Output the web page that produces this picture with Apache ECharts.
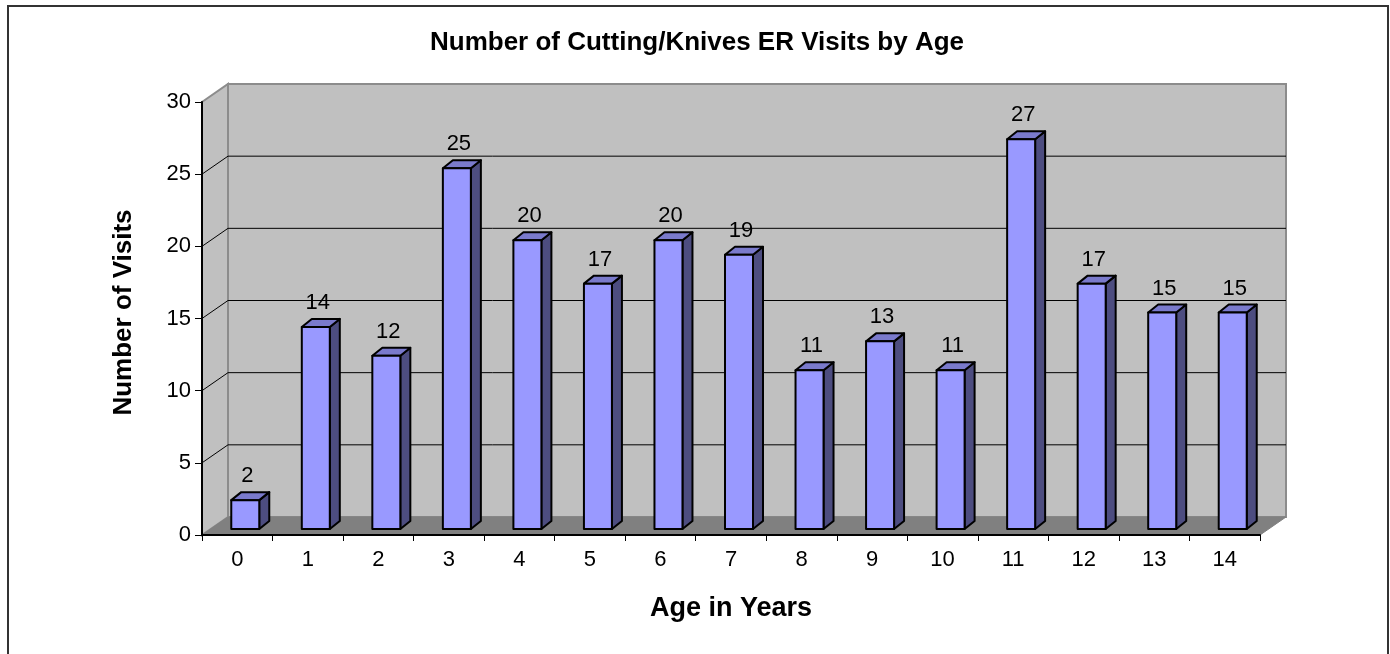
<!DOCTYPE html>
<html><head><meta charset="utf-8">
<style>html,body{margin:0;padding:0;background:#fff}#c{width:1390px;height:654px}</style>
<script src="https://cdn.jsdelivr.net/npm/echarts@6/dist/echarts.min.js"></script>
</head><body><div id="c"></div>
<script>
const categories = ['0','1','2','3','4','5','6','7','8','9','10','11','12','13','14'];
const visits = [2,14,12,25,20,17,20,19,11,13,11,27,17,15,15];
const gridTicks = [5,10,15,20,25];

const FONT = '"Liberation Sans", Arial, sans-serif';
const wallDepth = [26, -18];
const barDepth = [10, -8];
const barOffset = [8, -6];
const barWidth = 28;

const chart = echarts.init(document.getElementById('c'), null, {renderer:'canvas'});

function renderWalls(params, api) {
  const cs = params.coordSys;
  const L = cs.x, R = cs.x + cs.width, T = cs.y, B = cs.y + cs.height;
  const dx = wallDepth[0], dy = wallDepth[1];
  const kids = [];
  kids.push({type:'polygon', shape:{points:[[L+dx,T+dy],[R+dx,T+dy],[R+dx,B+dy],[L+dx,B+dy]]}, style:{fill:'#c0c0c0', stroke:'#8c8c8c', lineWidth:2}});
  kids.push({type:'polygon', shape:{points:[[L,T],[L+dx,T+dy],[L+dx,B+dy],[L,B]]}, style:{fill:'#c0c0c0', stroke:'#8c8c8c', lineWidth:2}});
  kids.push({type:'polygon', shape:{points:[[L,B],[L+dx,B+dy],[R+dx,B+dy],[R,B]]}, style:{fill:'#808080', stroke:'#808080', lineWidth:1}});
  gridTicks.forEach(v => {
    const y = api.coord([0, v])[1];
    kids.push({type:'polyline', shape:{points:[[L,y],[L+dx,y+dy],[R+dx,y+dy]]}, style:{fill:'none', stroke:'#000', lineWidth:1}});
  });
  return {type:'group', children:kids};
}

function renderBar(params, api) {
  const catIdx = api.value(0), val = api.value(1);
  const top = api.coord([catIdx, val]);
  const base = api.coord([catIdx, 0]);
  const x0 = top[0] + barOffset[0] - barWidth/2, x1 = x0 + barWidth;
  const yB = base[1] + barOffset[1], yT = top[1] + barOffset[1];
  const dx = barDepth[0], dy = barDepth[1];
  const s = {stroke:'#000', lineWidth:2, lineJoin:'round'};
  return {type:'group', children:[
    {type:'polygon', shape:{points:[[x1,yT],[x1+dx,yT+dy],[x1+dx,yB+dy],[x1,yB]]}, style:Object.assign({fill:'#4d4d80'},s)},
    {type:'polygon', shape:{points:[[x0,yT],[x0+dx,yT+dy],[x1+dx,yT+dy],[x1,yT]]}, style:Object.assign({fill:'#7a7acc'},s)},
    {type:'rect', shape:{x:x0,y:yT,width:barWidth,height:yB-yT}, style:Object.assign({fill:'#9999ff'},s)},
    {type:'text', style:{text:String(val), x:top[0]+10, y:yT-24, align:'center', verticalAlign:'middle', font:'22px '+FONT, fill:'#000'}}
  ]};
}

chart.setOption({
  animation:false,
  backgroundColor:'#fff',
  title:{text:'Number of Cutting/Knives ER Visits by Age', left:692, top:25, textAlign:'center',
    textStyle:{fontFamily:FONT, fontSize:26, fontWeight:'bold', color:'#000'}},
  grid:{left:202, right:130, top:102, bottom:119, containLabel:false},
  xAxis:{type:'category', data:categories, boundaryGap:true,
    name:'Age in Years', nameLocation:'middle', nameGap:60,
    nameTextStyle:{fontFamily:FONT, fontSize:27, fontWeight:'bold', color:'#000'},
    axisLine:{show:true, lineStyle:{color:'#000', width:2}},
    axisTick:{show:true, alignWithLabel:false, length:6, lineStyle:{color:'#000', width:1}},
    axisLabel:{fontFamily:FONT, fontSize:22, color:'#000', margin:14, interval:0},
    splitLine:{show:false}, z:5},
  yAxis:{type:'value', min:0, max:30, interval:5,
    name:'Number of Visits', nameLocation:'middle', nameGap:65, nameRotate:90,
    nameTextStyle:{fontFamily:FONT, fontSize:26, fontWeight:'bold', color:'#000', padding:[0,0,0,12]},
    axisLine:{show:true, lineStyle:{color:'#000', width:2}},
    axisTick:{show:true, length:7, lineStyle:{color:'#000', width:1}},
    axisLabel:{fontFamily:FONT, fontSize:22, color:'#000', margin:11},
    splitLine:{show:false}, z:5},
  graphic:[{type:'polyline', silent:true, z:-1, shape:{points:[[8,654],[8,6],[1388,6],[1388,654]]}, style:{fill:'none',stroke:'#333',lineWidth:2}}],
  series:[
    {type:'custom', name:'walls', coordinateSystem:'cartesian2d', data:[[0,0]], renderItem:renderWalls, z:1, silent:true, clip:false, encode:{x:0,y:1}},
    {type:'custom', name:'Visits', coordinateSystem:'cartesian2d', data:categories.map((c,i)=>[i,visits[i]]), renderItem:renderBar, z:2, clip:false, encode:{x:0,y:1}}
  ]
});
</script></body></html>
